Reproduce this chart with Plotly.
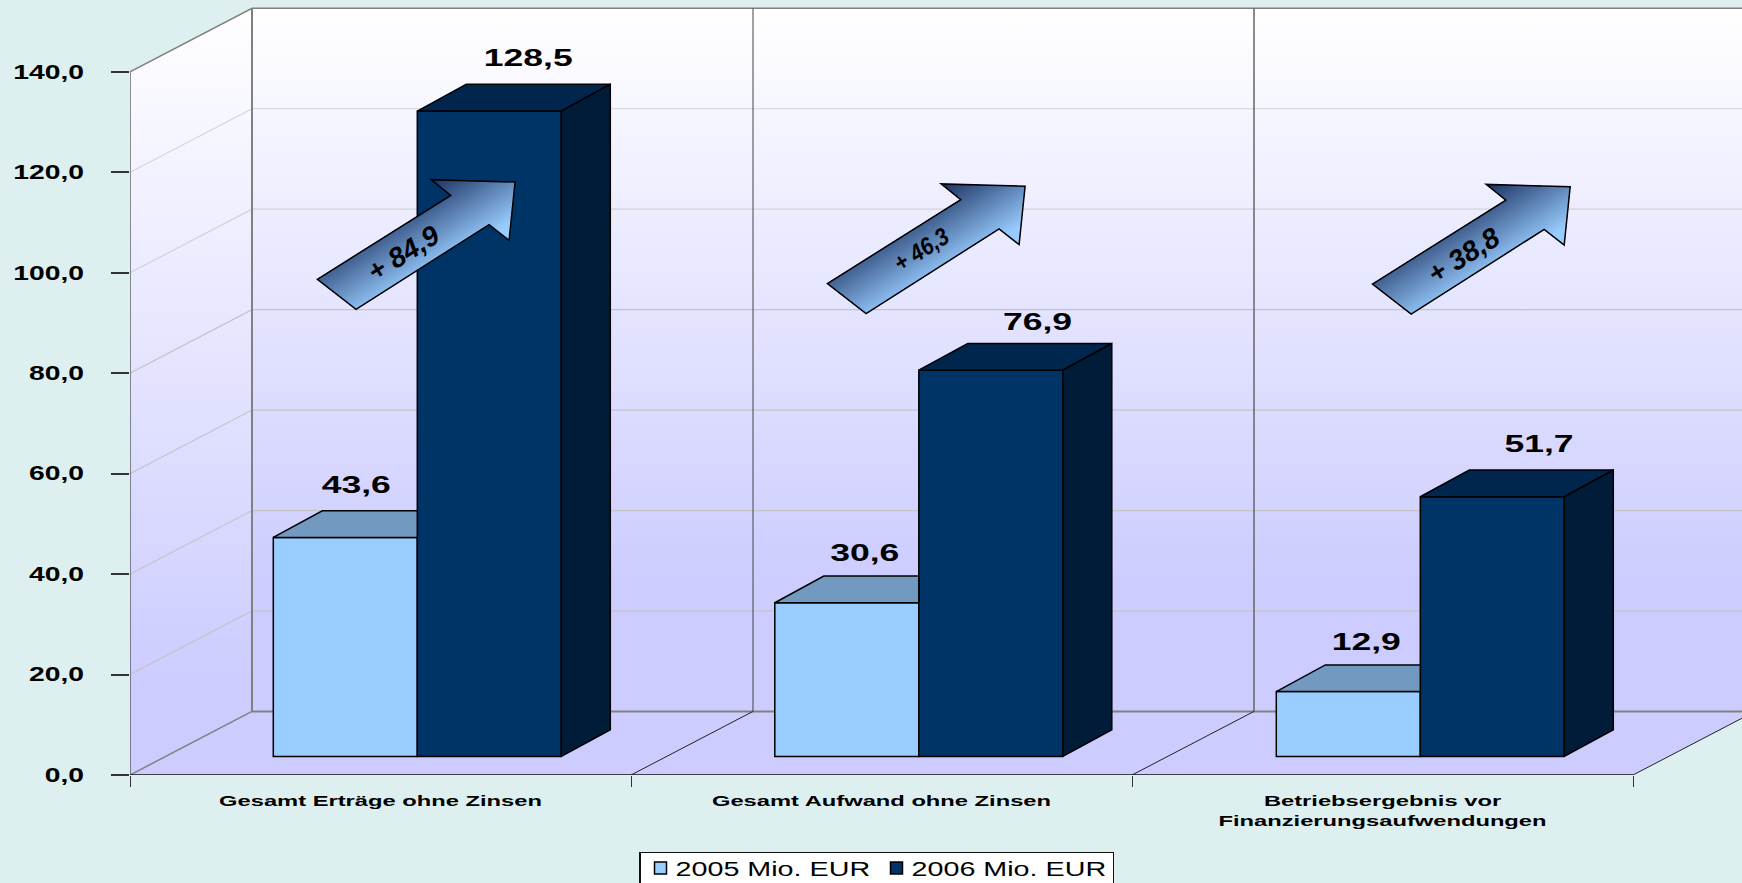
import plotly.graph_objects as go

# Chart data
categories = ["Gesamt Erträge ohne Zinsen", "Gesamt Aufwand ohne Zinsen",
              "Betriebsergebnis vor<br>Finanzierungsaufwendungen"]
series_names = ["2005 Mio. EUR", "2006 Mio. EUR"]
values_2005 = [43.6, 30.6, 12.9]
values_2006 = [128.5, 76.9, 51.7]
value_ticks = [0, 20, 40, 60, 80, 100, 120, 140]

# Scales of the oblique projection
W, H = 1742, 883
PLOT_L, PLOT_T, AXIS_B = 130, 4, 775.2
PX_PER_CAT = 501.0
PX_PER_VAL = 703.3 / 140
X_MAX = (W - PLOT_L) / PX_PER_CAT
Y_MAX = (AXIS_B - PLOT_T) / PX_PER_VAL


def dx(px):
    return px / PX_PER_CAT


def dy(px):
    return px / PX_PER_VAL


WALL_DX, WALL_DY = dx(122), 12.66
BAR_W = dx(144)
BAR_START = dx(143.3)
BAR_DX, BAR_DY = dx(49), dy(26.7)
BAR_BASE = dy(18.6)
N = len(categories)

BG = "#DDEFEF"
LIGHT, LIGHT_TOP = "#99CCFF", "#7299BF"
DARK, DARK_TOP, DARK_SIDE = "#003366", "#00264D", "#001C38"
WALL_LOW, WALL_HIGH = "#CCCCFF", "#FFFFFF"
FONT = "Liberation Sans"

fig = go.Figure()


def line_trace(xs, ys, color, width, axes="x/y"):
    xa, ya = axes.split("/")
    fig.add_trace(go.Scatter(x=xs, y=ys, mode="lines", xaxis=xa, yaxis=ya, cliponaxis=False,
                             line=dict(color=color, width=width),
                             hoverinfo="skip", showlegend=False))


def poly_trace(xs, ys, color, axes="x2/y2", line_color="#000000", line_width=1.5):
    xa, ya = axes.split("/")
    fig.add_trace(go.Scatter(x=xs + xs[:1], y=ys + ys[:1], mode="lines", fill="toself",
                             fillcolor=color, xaxis=xa, yaxis=ya,
                             line=dict(color=line_color, width=line_width),
                             hoverinfo="skip", showlegend=False))


def gradient_wall(xs, ys, start, stop, first):
    fig.add_trace(go.Scatter(
        x=xs + xs[:1], y=ys + ys[:1], mode="lines", fill="toself",
        line=dict(width=0), hoverinfo="skip", showlegend=False,
        fillgradient=dict(type="vertical", start=start, stop=stop,
                          colorscale=[[0, WALL_LOW], [first, WALL_LOW], [1, WALL_HIGH]])))


# Side wall, back wall and floor
gradient_wall([0, WALL_DX, WALL_DX, 0], [0, WALL_DY, 140 + WALL_DY, 140], 0, 140 + WALL_DY, 0.12)
gradient_wall([WALL_DX, N + WALL_DX + 1, N + WALL_DX + 1, WALL_DX],
              [WALL_DY, WALL_DY, 140 + WALL_DY, 140 + WALL_DY],
              WALL_DY, 140 + WALL_DY, 0.18)
poly_trace([0, WALL_DX, N + WALL_DX, N], [0, WALL_DY, WALL_DY, 0], WALL_LOW,
           axes="x/y", line_color=WALL_LOW, line_width=0)

# Gridlines on both walls
for v in value_ticks[1:-1]:
    line_trace([0, WALL_DX, X_MAX], [v, v + WALL_DY, v + WALL_DY],
               "#C4C4C8" if v < 100 else "#D2D2D6", 1.2)

# Wall edges and category dividers on floor and back wall
line_trace([0, WALL_DX, X_MAX], [140, 140 + WALL_DY, 140 + WALL_DY], "#808080", 1.5)
line_trace([WALL_DX, X_MAX], [WALL_DY, WALL_DY], "#808080", 2)
line_trace([WALL_DX, WALL_DX], [WALL_DY, 140 + WALL_DY], "#808080", 2)
line_trace([1 + WALL_DX, 1 + WALL_DX], [WALL_DY, 140 + WALL_DY], "#444444", 1)
line_trace([2 + WALL_DX, 2 + WALL_DX], [WALL_DY, 140 + WALL_DY], "#666666", 1.5)
line_trace([0, WALL_DX], [0, WALL_DY], "#808080", 1.5)
for i in range(1, N + 1):
    line_trace([i, i + WALL_DX], [0, WALL_DY], "#222222", 1)
line_trace([0, 0], [0, 140], "#222222", 1)
line_trace([0, N], [0, 0], "#111111", 1.5)

# Front faces of the bars
lefts_2005 = [i * 1.001 + BAR_START for i in range(N)]
lefts_2006 = [x + BAR_W for x in lefts_2005]
for name, lefts, vals, color in [(series_names[0], lefts_2005, values_2005, LIGHT),
                                 (series_names[1], lefts_2006, values_2006, DARK)]:
    fig.add_trace(go.Bar(name=name, x=[x + BAR_W / 2 for x in lefts], y=vals, base=BAR_BASE,
                         width=BAR_W, xaxis="x2", yaxis="y2", hoverinfo="skip",
                         marker=dict(color=color, line=dict(color="#000000", width=1.5))))

# Top and side faces; the 2005 top stops where the 2006 bar begins
for x, v in zip(lefts_2005, values_2005):
    t = BAR_BASE + v
    poly_trace([x, x + BAR_DX, x + BAR_W, x + BAR_W], [t, t + BAR_DY, t + BAR_DY, t], LIGHT_TOP)
for x, v in zip(lefts_2006, values_2006):
    t = BAR_BASE + v
    r = x + BAR_W
    poly_trace([x, x + BAR_DX, r + BAR_DX, r], [t, t + BAR_DY, t + BAR_DY, t], DARK_TOP)
    poly_trace([r, r + BAR_DX, r + BAR_DX, r],
               [BAR_BASE, BAR_BASE + BAR_DY, t + BAR_DY, t], DARK_SIDE)


def de(v):
    return f"{v:.1f}".replace(".", ",")


# Value labels above the bars
label_nudge_2005 = [11, 18, 18]
label_nudge_2006 = [39, 46.7, 46.7]
label_lift = [51, 48, 48]
label_lift_2006 = [51, 46, 50.5]
fig.add_trace(go.Scatter(
    x=[x + BAR_W / 2 + dx(n) for x, n in zip(lefts_2005, label_nudge_2005)]
    + [x + BAR_W / 2 + dx(n) for x, n in zip(lefts_2006, label_nudge_2006)],
    y=[BAR_BASE + v + dy(n) for v, n in zip(values_2005, label_lift)]
    + [BAR_BASE + v + dy(n) for v, n in zip(values_2006, label_lift_2006)],
    text=[de(v) for v in values_2005 + values_2006],
    mode="text", textposition="middle center", xaxis="x2", yaxis="y2",
    textfont=dict(family=FONT, size=24.5, color="#000000", weight="bold"),
    hoverinfo="skip", showlegend=False))

# Gradient arrows carrying the change between the years
ARROW_PX = [(0, 0), (133.4, -84), (113.7, -99.7), (197.7, -97.3),
            (191.7, -39), (171.7, -54.7), (38.7, 30)]
ARROW_AT = [(0.374, 98.7), (1.392, 97.85), (2.480, 97.75)]
TEXT_AT = [(85.7, -26), (94, -33.7), (91, -29)]
TEXT_SIZE = [28, 24.5, 28]
NX, NY = 0.53, 0.85
DARK_RGB, LIGHT_RGB = (28, 51, 98), (153, 204, 255)
BANDS = 36


def clip_from(points, level):
    out = []
    for i, (x0, y0) in enumerate(points):
        x1, y1 = points[(i + 1) % len(points)]
        p0, p1 = x0 * NX + y0 * NY, x1 * NX + y1 * NY
        if p0 >= level:
            out.append((x0, y0))
        if (p0 >= level) != (p1 >= level):
            t = (level - p0) / (p1 - p0)
            out.append((x0 + t * (x1 - x0), y0 + t * (y1 - y0)))
    return out


def to_path(points, ax, ay):
    return "M" + " L".join(f"{ax + dx(px)},{ay - dy(py)}" for px, py in points) + " Z"


levels = [px * NX + py * NY for px, py in ARROW_PX]
p_min, p_max = min(levels), max(levels)
shapes = []
annotations = []
for (ax, ay), (tx, ty), size, a, b in zip(ARROW_AT, TEXT_AT, TEXT_SIZE, values_2005, values_2006):
    for k in range(BANDS):
        u = k / (BANDS - 1)
        level = p_min + u * (p_max - p_min) * 0.9 - 0.01
        f = min(1.0, u * 1.08)
        rgb = [round(c0 + f * (c1 - c0)) for c0, c1 in zip(DARK_RGB, LIGHT_RGB)]
        part = clip_from(ARROW_PX, level)
        if len(part) >= 3:
            shapes.append(dict(type="path", xref="x", yref="y", layer="above",
                               path=to_path(part, ax, ay),
                               fillcolor=f"rgb({rgb[0]},{rgb[1]},{rgb[2]})",
                               line=dict(width=0)))
    shapes.append(dict(type="path", xref="x", yref="y", layer="above",
                       path=to_path(ARROW_PX, ax, ay), fillcolor="rgba(0,0,0,0)",
                       line=dict(color="#000000", width=1.5)))
    annotations.append(dict(x=ax + dx(tx), y=ay - dy(ty), xref="x", yref="y", showarrow=False,
                            text=f"+ {de(b - a)}", textangle=-32, xanchor="center", yanchor="middle",
                            font=dict(family=FONT, size=size, color="#000000", weight="bold", style="italic")))

PLOT_W, PLOT_H = W - PLOT_L, AXIS_B - PLOT_T
fig.update_layout(
    width=W, height=H, showlegend=True, barmode="overlay",
    paper_bgcolor=BG, plot_bgcolor="rgba(0,0,0,0)",
    margin=dict(l=PLOT_L, r=0, t=PLOT_T, b=H - AXIS_B, pad=0, autoexpand=False),
    separators=",.",
    font=dict(family=FONT, color="#000000"),
    shapes=shapes, annotations=annotations,
    legend=dict(orientation="h", x=(639 - PLOT_L) / PLOT_W, y=1 - (852 - PLOT_T) / PLOT_H,
                xanchor="left", yanchor="top",
                bgcolor="#FFFFFF", bordercolor="#111111", borderwidth=1.5,
                font=dict(family=FONT, size=20.5, color="#000000"),
                entrywidth=191, entrywidthmode="pixels", traceorder="normal"),
    xaxis=dict(range=[0, X_MAX], showgrid=False, zeroline=False, showline=False,
               tickmode="array", tickvals=[i + 0.5 for i in range(N)], ticktext=categories,
               ticks="", ticklabelstandoff=14, tickangle=0,
               tickfont=dict(family=FONT, size=15.5, color="#000000", weight="bold"),
               minor=dict(tickmode="array", tickvals=list(range(N + 1)), ticks="outside",
                          ticklen=11, tickwidth=1, tickcolor="#333333", showgrid=False)),
    yaxis=dict(range=[0, Y_MAX], showgrid=False, zeroline=False, showline=False,
               tickmode="array", tickvals=value_ticks, tickformat=".1f",
               ticks="outside", ticklen=18, tickwidth=1.5, tickcolor="#333333",
               ticklabelstandoff=23,
               tickfont=dict(family=FONT, size=19.5, color="#000000", weight="bold")),
    xaxis2=dict(range=[0, X_MAX], overlaying="x", visible=False),
    yaxis2=dict(range=[0, Y_MAX], overlaying="y", visible=False),
)

# The lettering is drawn wider than the face's natural proportions;
# legend entries sit a little higher in their box, and the middle arrow text is narrower
widen = """
var widen = function (el, k) {
  var parts = el.querySelectorAll('tspan.line');
  (parts.length ? parts : [el]).forEach(function (t) {
    var w = t.getComputedTextLength();
    t.setAttribute('textLength', w * k);
    t.setAttribute('lengthAdjust', 'spacingAndGlyphs');
  });
};
var widenAll = function (selector, k) {
  document.querySelectorAll(selector).forEach(function (el) { widen(el, k); });
};
widenAll('.xtick text', 1.53);
widenAll('.ytick text', 1.45);
widenAll('.textpoint text', 1.45);
widenAll('.legendtext', 1.40);
document.querySelectorAll('.legendtext').forEach(function (t) {
  t.setAttribute('x', parseFloat(t.getAttribute('x')) - 5);
});
document.querySelectorAll('.legend .traces').forEach(function (g) {
  var m = /translate\\(([-\\d.]+),\\s*([-\\d.]+)\\)/.exec(g.getAttribute('transform'));
  if (m) g.setAttribute('transform', 'translate(' + m[1] + ',' + (parseFloat(m[2]) - 5) + ')');
});
var notes = document.querySelectorAll('.annotation-text');
if (notes.length > 1) widen(notes[1], 0.87);
"""
fig.write_html("out.html", post_script=widen, config={"displayModeBar": False})
